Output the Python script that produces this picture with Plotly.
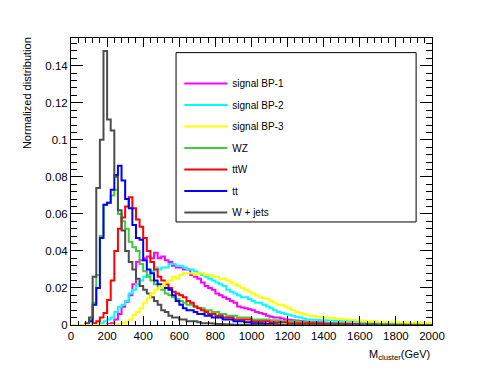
import numpy as np
import plotly.graph_objects as go

# 100 bins of 20 GeV between 0 and 2000 GeV
BIN_EDGES = np.linspace(0, 2000, 101)

signal_bp1 = [
    0, 0, 0, 0, 0, 0, 0, 0, 0, 0,
    0.0005, 0.001, 0.003, 0.006, 0.0099, 0.0126, 0.016, 0.022, 0.034, 0.035,
    0.036, 0.037, 0.036, 0.039, 0.036, 0.037, 0.035, 0.034, 0.032, 0.031,
    0.031, 0.030, 0.030, 0.027, 0.026, 0.025, 0.023, 0.021, 0.020, 0.019,
    0.017, 0.016, 0.015, 0.014, 0.013, 0.012, 0.010, 0.0095, 0.009, 0.0085,
    0.008, 0.007, 0.0065, 0.006, 0.005, 0.0045, 0.004, 0.004, 0.0035, 0.003,
    0.0028, 0.0026, 0.0024, 0.0022, 0.002, 0.0019, 0.0018, 0.0016, 0.0015, 0.0014,
    0.0012, 0.0011, 0.001, 0.001, 0.0009, 0.0008, 0.0008, 0.0007, 0.0006, 0.0006,
    0.0005, 0.0005, 0.0005, 0.0005, 0.0005, 0.0004, 0.0004, 0.0004, 0.0004, 0.0004,
    0.0003, 0.0003, 0.0003, 0.0003, 0.0003, 0.0002, 0.0002, 0.0002, 0.0002, 0.0002,
]

signal_bp2 = [
    0, 0, 0, 0, 0, 0, 0, 0, 0.001, 0.002,
    0.003, 0.004, 0.007, 0.0097, 0.011, 0.013, 0.017, 0.019, 0.022, 0.024,
    0.026, 0.027, 0.029, 0.031, 0.030, 0.031, 0.031, 0.033, 0.033, 0.032,
    0.032, 0.031, 0.030, 0.030, 0.029, 0.028, 0.027, 0.026, 0.025, 0.024,
    0.023, 0.022, 0.021, 0.019, 0.018, 0.017, 0.016, 0.015, 0.015, 0.014,
    0.013, 0.012, 0.012, 0.011, 0.010, 0.009, 0.008, 0.007, 0.0065, 0.006,
    0.0055, 0.005, 0.0045, 0.004, 0.0035, 0.003, 0.003, 0.0028, 0.0027, 0.0026,
    0.0025, 0.0024, 0.0023, 0.0022, 0.0021, 0.002, 0.002, 0.0019, 0.0018, 0.0017,
    0.0015, 0.0014, 0.0013, 0.0012, 0.0011, 0.001, 0.001, 0.0009, 0.0008, 0.0008,
    0.0007, 0.0007, 0.0006, 0.0006, 0.0005, 0.0005, 0.0005, 0.0004, 0.0004, 0.0004,
]

signal_bp3 = [
    0, 0, 0, 0, 0, 0, 0, 0, 0, 0,
    0, 0, 0, 0.0005, 0.001, 0.0015, 0.003, 0.0055, 0.007, 0.009,
    0.012, 0.0145, 0.017, 0.019, 0.020, 0.021, 0.023, 0.024, 0.026, 0.025,
    0.027, 0.028, 0.028, 0.028, 0.027, 0.028, 0.028, 0.027, 0.027, 0.026,
    0.026, 0.025, 0.025, 0.024, 0.023, 0.022, 0.021, 0.020, 0.019, 0.018,
    0.017, 0.016, 0.015, 0.0145, 0.014, 0.013, 0.012, 0.011, 0.011, 0.010,
    0.009, 0.008, 0.007, 0.0065, 0.006, 0.0055, 0.005, 0.0048, 0.0045, 0.0043,
    0.004, 0.004, 0.0038, 0.0035, 0.0033, 0.003, 0.003, 0.0028, 0.0027, 0.0025,
    0.0024, 0.0022, 0.002, 0.002, 0.0019, 0.0018, 0.0017, 0.0017, 0.0016, 0.0016,
    0.0015, 0.0015, 0.0014, 0.0014, 0.0013, 0.0013, 0.0013, 0.0012, 0.0012, 0.0012,
]

wz = [
    0, 0, 0, 0, 0, 0.003, 0.012, 0.027, 0.048, 0.065,
    0.066, 0.070, 0.073, 0.060, 0.056, 0.052, 0.045, 0.042, 0.040, 0.033,
    0.029, 0.026, 0.024, 0.022, 0.020, 0.019, 0.017, 0.016, 0.015, 0.014,
    0.013, 0.012, 0.011, 0.011, 0.010, 0.009, 0.009, 0.008, 0.008, 0.007,
    0.007, 0.006, 0.006, 0.005, 0.005, 0.005, 0.004, 0.004, 0.004, 0.004,
    0.003, 0.003, 0.003, 0.003, 0.003, 0.0025, 0.0025, 0.0025, 0.002, 0.002,
    0.002, 0.002, 0.002, 0.0018, 0.0018, 0.0015, 0.0015, 0.0015, 0.0012, 0.0012,
    0.001, 0.001, 0.001, 0.0009, 0.0008, 0.0008, 0.0007, 0.0006, 0.0006, 0.0005,
    0.0005, 0.0004, 0.0004, 0.0003, 0.0003, 0.0003, 0.0002, 0.0002, 0.0002, 0.0002,
    0.0001, 0.0001, 0.0001, 0.0001, 0.0001, 0, 0, 0, 0, 0,
]

ttw = [
    0, 0, 0, 0, 0, 0, 0.001, 0.002, 0.004, 0.0065,
    0.0135, 0.024, 0.040, 0.052, 0.058, 0.064, 0.069, 0.063, 0.057, 0.053,
    0.047, 0.040, 0.034, 0.030, 0.026, 0.024, 0.022, 0.020, 0.018, 0.017,
    0.016, 0.015, 0.013, 0.012, 0.010, 0.009, 0.008, 0.007, 0.006, 0.006,
    0.005, 0.005, 0.004, 0.004, 0.004, 0.003, 0.003, 0.003, 0.003, 0.003,
    0.002, 0.002, 0.002, 0.002, 0.002, 0.0015, 0.0015, 0.0015, 0.0015, 0.0015,
    0.001, 0.001, 0.001, 0.001, 0.001, 0.001, 0.001, 0.001, 0.001, 0.001,
    0.0005, 0.0005, 0.0005, 0.0005, 0.0005, 0.0005, 0.0005, 0.0005, 0.0005, 0.0005,
    0.0003, 0.0003, 0.0003, 0.0003, 0.0003, 0.0002, 0.0002, 0.0002, 0.0002, 0.0002,
    0.0001, 0.0001, 0.0001, 0.0001, 0.0001, 0, 0, 0, 0, 0,
]

tt = [
    0, 0, 0, 0, 0, 0.002, 0.011, 0.020, 0.047, 0.065,
    0.066, 0.073, 0.081, 0.086, 0.078, 0.068, 0.063, 0.054, 0.047, 0.046,
    0.035, 0.030, 0.028, 0.024, 0.022, 0.021, 0.020, 0.019, 0.016, 0.013,
    0.011, 0.009, 0.008, 0.008, 0.007, 0.006, 0.006, 0.005, 0.005, 0.004,
    0.004, 0.004, 0.003, 0.003, 0.003, 0.002, 0.002, 0.002, 0.0015, 0.0015,
    0.001, 0.001, 0.001, 0.0008, 0.0006, 0.0005, 0.0004, 0.0003, 0.0002, 0.0002,
    0, 0, 0, 0, 0, 0, 0, 0, 0, 0,
    0, 0, 0, 0, 0, 0, 0, 0, 0, 0,
    0, 0, 0, 0, 0, 0, 0, 0, 0, 0,
    0, 0, 0, 0, 0, 0, 0, 0, 0, 0,
]

w_jets = [
    0, 0, 0, 0, 0.001, 0.004, 0.026, 0.074, 0.100, 0.148,
    0.111, 0.105, 0.080, 0.062, 0.051, 0.040, 0.034, 0.030, 0.025, 0.021,
    0.019, 0.017, 0.015, 0.013, 0.011, 0.008, 0.007, 0.005, 0.004, 0.004,
    0.003, 0.003, 0.002, 0.002, 0.002, 0.0015, 0.001, 0.001, 0.001, 0.0008,
    0.0006, 0.0005, 0.0004, 0.0003, 0.0003, 0.0002, 0.0002, 0.0001, 0.0001, 0.0001,
    0, 0, 0, 0, 0, 0, 0, 0, 0, 0,
    0, 0, 0, 0, 0, 0, 0, 0, 0, 0,
    0, 0, 0, 0, 0, 0, 0, 0, 0, 0,
    0, 0, 0, 0, 0, 0, 0, 0, 0, 0,
    0, 0, 0, 0, 0, 0, 0, 0, 0, 0,
]

FONT = "Liberation Sans, Arial, sans-serif"

# (label, values, colour, legend position) - listed in drawing order
SERIES = [
    ("signal BP-1", signal_bp1, "#ff00ff", 1),
    ("signal BP-2", signal_bp2, "#00ffff", 2),
    ("WZ", wz, "#44c844", 4),
    ("ttW", ttw, "#ff0000", 5),
    ("tt", tt, "#0000ff", 6),
    ("W + jets", w_jets, "#4d4d4d", 7),
    ("signal BP-3", signal_bp3, "#ffff00", 3),
]

fig = go.Figure()
for name, vals, color, rank in SERIES:
    # step outline: repeat the last bin content at the upper edge
    fig.add_trace(go.Scatter(
        x=BIN_EDGES, y=list(vals) + [vals[-1]],
        mode="lines", name=name, legendrank=rank, legendgroup=name,
        line=dict(color=color, width=2, shape="hv"),
    ))

axis_common = dict(
    showline=True, linecolor="black", linewidth=1, mirror="ticks",
    ticks="inside", tickcolor="black", showgrid=False, zeroline=False,
    tickfont=dict(family=FONT, size=11.5, color="black"),
)

fig.update_xaxes(
    range=[0, 2000], dtick=200, ticklen=9,
    minor=dict(ticks="inside", ticklen=4.5, dtick=40, tickcolor="black"),
    **axis_common,
)
fig.update_yaxes(
    range=[0, 0.155], dtick=0.02, ticklen=12,
    minor=dict(ticks="inside", ticklen=6, dtick=0.004, tickcolor="black"),
    **axis_common,
)

fig.update_layout(
    width=480, height=382,
    margin=dict(l=71, r=48, t=38, b=57),
    plot_bgcolor="white", paper_bgcolor="white",
    font=dict(family=FONT, color="black"),
    showlegend=True,
    legend=dict(
        x=0.30, y=0.892, xanchor="left", yanchor="top",
        bgcolor="rgba(0,0,0,0)", font=dict(size=10, family=FONT),
        itemwidth=43, tracegroupgap=2.5,
    ),
    shapes=[dict(
        type="rect", xref="paper", yref="paper",
        x0=0.291, x1=0.956, y0=0.359, y1=0.949,
        line=dict(color="black", width=1), fillcolor="white", layer="below",
    )],
    annotations=[
        dict(text="Normalized distribution", xref="paper", yref="paper",
             x=-0.122, y=1.01, xanchor="center", yanchor="top",
             textangle=-90, showarrow=False, font=dict(size=11)),
        dict(text="M<sub>cluster</sub>(GeV)", xref="paper", yref="paper",
             x=1.0, y=-0.105, xanchor="right", yanchor="middle",
             showarrow=False, font=dict(size=11)),
    ],
)

fig.write_html(
    "out.html",
    config={"displayModeBar": False},
    post_script="document.body.style.margin = '0';",
)
